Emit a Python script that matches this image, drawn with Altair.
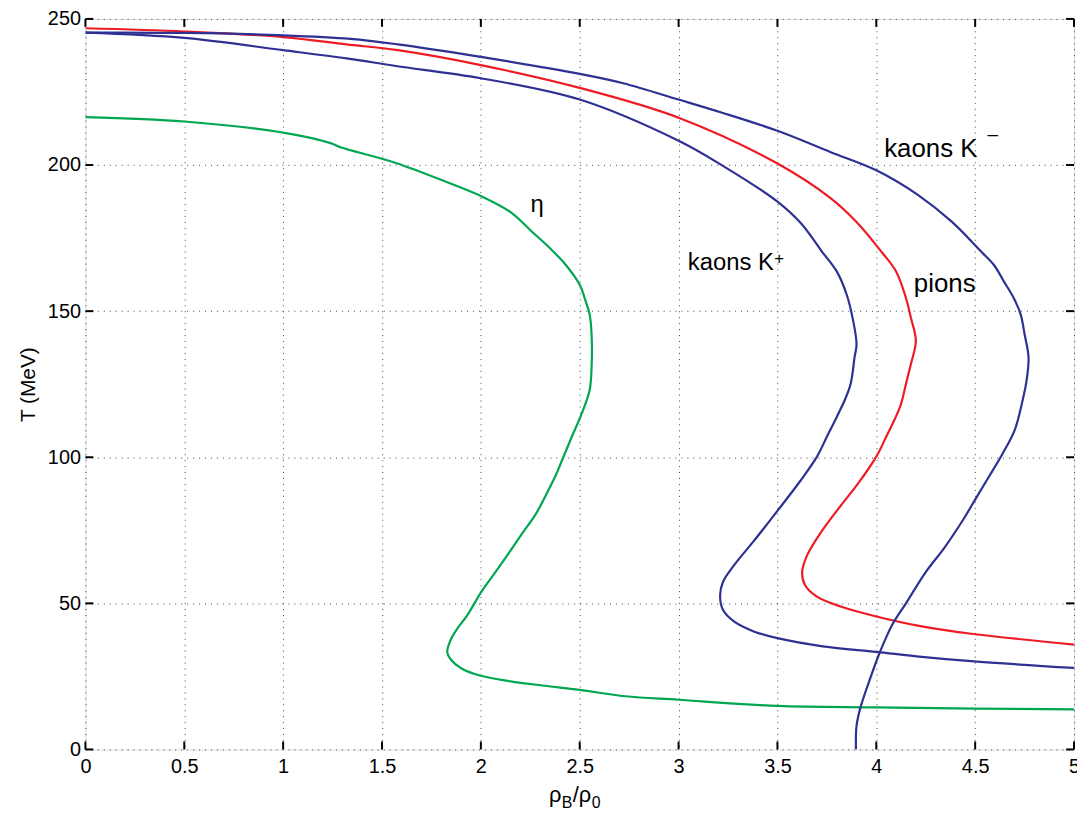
import altair as alt
import pandas as pd

# ---------------- data ----------------
curve_names = ["eta", "kaons K+", "pions", "kaons K-"]
curve_colors = ["#00a651", "#2e3192", "#ed1c24", "#2e3192"]

eta_x = [0, 0.5, 1.0, 1.24, 1.29, 1.57, 1.83, 2.0, 2.15, 2.26, 2.35, 2.43, 2.5, 2.53, 2.55, 2.56, 2.56,
         2.55, 2.51, 2.46, 2.42, 2.38, 2.34, 2.28, 2.21, 2.13, 2.06, 2.0, 1.93, 1.88, 1.85, 1.83, 1.85,
         1.9, 2.0, 2.15, 2.31, 2.5, 2.73, 3.0, 3.5, 4.0, 4.5, 5.0]
eta_T = [216.4, 214.9, 211.1, 207.5, 206.1, 200.7, 194.1, 189.4, 183.9, 177.1, 171.5, 165.8, 159.0, 153.4,
         148.9, 142.1, 130.8, 122.9, 114.9, 107.0, 100.5, 94.0, 88.5, 80.8, 74.0, 66.1, 59.4, 53.7, 45.8,
         41.3, 37.9, 33.4, 30.6, 27.8, 25.2, 23.3, 21.9, 20.4, 18.2, 17.0, 14.9, 14.4, 14.0, 13.7]

kplus_x = [0, 0.5, 1.0, 1.32, 1.57, 2.0, 2.5, 3.0, 3.22, 3.5, 3.62, 3.725, 3.8, 3.85, 3.88, 3.9, 3.89,
           3.87, 3.84, 3.8, 3.75, 3.7, 3.62, 3.52, 3.45, 3.38, 3.28, 3.225, 3.21, 3.225, 3.28, 3.38,
           3.5, 3.73, 4.0, 4.23, 4.48, 5.0]
kplus_T = [245.3, 243.5, 239.3, 236.5, 233.9, 229.7, 222.4, 208.3, 199.9, 187.5, 180.0, 170.4, 163.6,
           155.7, 147.7, 138.7, 134.2, 125.1, 119.5, 113.8, 107.0, 100.2, 92.3, 83.4, 77.3, 71.3, 63.0,
           57.4, 52.8, 47.7, 43.8, 40.4, 38.1, 35.3, 33.4, 31.7, 30.2, 27.9]

pion_x = [0, 0.5, 1.0, 1.32, 1.58, 2.0, 2.5, 3.0, 3.5, 3.77, 3.9, 4.025, 4.1, 4.15, 4.175, 4.2, 4.175,
          4.15, 4.12, 4.05, 4.0, 3.91, 3.82, 3.72, 3.65, 3.625, 3.64, 3.7, 3.82, 4.0, 4.23, 4.48, 5.0]
pion_T = [246.8, 245.7, 243.8, 241.3, 239.3, 234.2, 226.4, 216.2, 200.5, 188.6, 180.5, 170.4, 163.6,
          154.5, 147.7, 139.8, 131.9, 125.1, 117.2, 107.0, 100.2, 91.2, 83.4, 74.3, 66.4, 60.7, 56.2,
          52.3, 48.9, 45.5, 42.1, 39.6, 35.9]

kminus_x = [0, 0.5, 1.0, 1.34, 1.58, 2.0, 2.5, 2.72, 3.0, 3.22, 3.5, 3.77, 4.0, 4.21, 4.38, 4.53, 4.595,
            4.645, 4.695, 4.73, 4.75, 4.77, 4.76, 4.74, 4.7, 4.64, 4.57, 4.5, 4.44, 4.345, 4.25, 4.15,
            4.08, 4.02, 3.97, 3.92, 3.9, 3.897]
kminus_T = [245.3, 245.2, 244.4, 243.2, 241.3, 237.0, 231.2, 228.0, 222.4, 217.9, 211.7, 204.4, 198.2,
            189.8, 180.7, 170.4, 165.8, 160.2, 154.5, 148.9, 142.1, 134.2, 126.2, 119.5, 109.3, 101.4,
            93.4, 85.5, 78.7, 69.1, 60.7, 50.0, 42.6, 33.6, 24.5, 14.4, 8.1, 0.0]

label_key = ["eta", "kplus", "pions", "kminus"]
label_text = ["η", "kaons K", "pions", "kaons K"]
label_sup = ["", "+", "", "–"]
label_x = [2.284, 3.047, 4.19, 4.04]
label_T = [183.9, 164.2, 156.7, 202.9]

x_ticks = [0, 0.5, 1, 1.5, 2, 2.5, 3, 3.5, 4, 4.5, 5]
y_ticks = [0, 50, 100, 150, 200, 250]

# ---------------- tables ----------------
rows = []
for name, xs, ts in zip(curve_names, [eta_x, kplus_x, pion_x, kminus_x],
                        [eta_T, kplus_T, pion_T, kminus_T]):
    for i, (a, b) in enumerate(zip(xs, ts)):
        rows.append({"curve": name, "i": i, "rho": a, "T": b})
df = pd.DataFrame(rows)
labels_df = pd.DataFrame({"key": label_key, "text": label_text, "sup": label_sup,
                          "rho": label_x, "T": label_T})
xt_df = pd.DataFrame({"v": x_ticks})
yt_df = pd.DataFrame({"v": y_ticks})

W, H = 996, 736
FONT = "Liberation Sans"
xscale = alt.Scale(domain=[0, 5], nice=False, zero=False)
yscale = alt.Scale(domain=[0, 250], nice=False, zero=False)

lines = alt.Chart(df).mark_line(strokeWidth=2.2, clip=True, interpolate="catmull-rom").encode(
    x=alt.X("rho:Q", scale=xscale,
            axis=alt.Axis(values=x_ticks, format="~g", title=None, grid=True, ticks=False,
                          domain=False, labelPadding=7, labelFontSize=20, labelFont=FONT,
                          labelColor="black", gridDash=[1, 5], gridColor="#444444", gridWidth=1,
                          labelFlush=False, labelOverlap=False)),
    y=alt.Y("T:Q", scale=yscale,
            axis=alt.Axis(values=y_ticks, title="T (MeV)", grid=True, ticks=False, domain=False,
                          labelPadding=5, labelFontSize=20, labelFont=FONT, labelColor="black",
                          gridDash=[1, 5], gridColor="#444444", gridWidth=1, titleFont=FONT,
                          titleFontSize=21, titleFontWeight="normal", titleColor="black",
                          titlePadding=9, labelFlush=False, labelOverlap=False)),
    color=alt.Color("curve:N", scale=alt.Scale(domain=curve_names, range=curve_colors), legend=None),
    detail="curve:N",
    order="i:Q",
)


def label(key, size, align="left", sup_size=None, sup_dx=0, sup_dy=0):
    base = alt.Chart(labels_df).transform_filter(f"datum.key == '{key}'")
    enc = dict(x=alt.X("rho:Q", scale=xscale), y=alt.Y("T:Q", scale=yscale))
    main = base.mark_text(align=align, baseline="alphabetic", fontSize=size, font=FONT,
                          color="black").encode(text="text:N", **enc)
    if sup_size is None:
        return main
    sup = base.mark_text(align="left", baseline="alphabetic", fontSize=sup_size, font=FONT,
                         color="black", dx=sup_dx, dy=sup_dy).encode(text="sup:N", **enc)
    return main + sup


texts = (label("eta", 24, align="center")
         + label("kplus", 24, sup_size=17, sup_dx=87, sup_dy=-6)
         + label("pions", 26)
         + label("kminus", 26, sup_size=19, sup_dx=104, sup_dy=-17))

TL = 8
tick_bottom = alt.Chart(xt_df).mark_rule(color="black", strokeWidth=2).encode(
    x=alt.X("v:Q", scale=xscale), y=alt.value(H), y2=alt.value(H - TL))
tick_top = alt.Chart(xt_df).mark_rule(color="black", strokeWidth=2).encode(
    x=alt.X("v:Q", scale=xscale), y=alt.value(0), y2=alt.value(TL))
tick_left = alt.Chart(yt_df).mark_rule(color="black", strokeWidth=2).encode(
    y=alt.Y("v:Q", scale=yscale), x=alt.value(0), x2=alt.value(TL))
tick_right = alt.Chart(yt_df).mark_rule(color="black", strokeWidth=2).encode(
    y=alt.Y("v:Q", scale=yscale), x=alt.value(W), x2=alt.value(W - TL))


# x-axis title rho_B / rho_0 with subscripts
def txt(s, px, py, size):
    return alt.Chart(xt_df.head(1)).mark_text(
        text=s, align="left", baseline="alphabetic", fontSize=size, font=FONT, color="black"
    ).encode(x=alt.value(px), y=alt.value(py))


xtitle = (txt("ρ", 467, H + 53, 22) + txt("B", 480, H + 59, 16) + txt("/ρ", 491, H + 53, 22)
          + txt("0", 510, H + 59, 16))

chart = alt.layer(
    lines, texts, tick_bottom, tick_top, tick_left, tick_right, xtitle
).properties(
    width=W, height=H,
    autosize=alt.AutoSizeParams(type="none"),
    padding={"left": 78, "top": 8, "right": 3, "bottom": 60},
).configure_view(
    stroke="black", strokeWidth=2.5
).configure(background="white")

chart.save("out.html", embed_options={"renderer": "svg", "actions": False})
